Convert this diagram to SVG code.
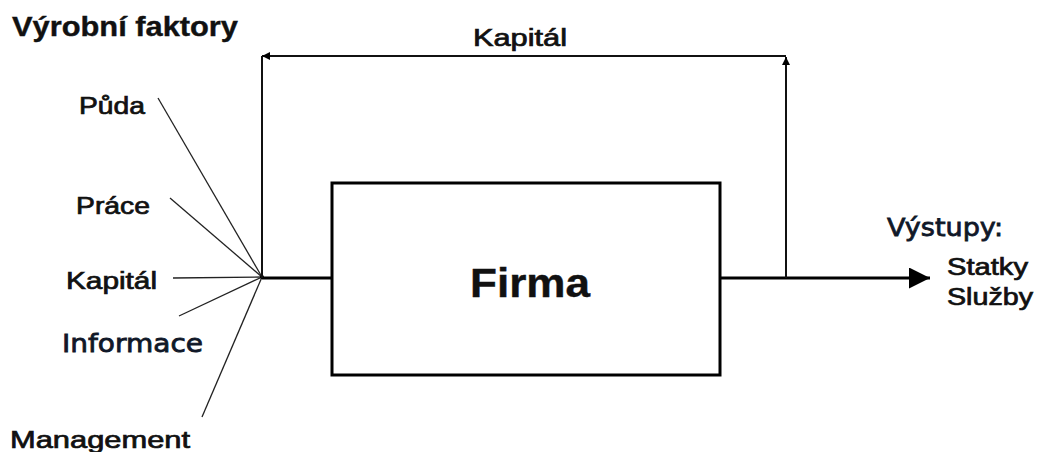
<svg xmlns="http://www.w3.org/2000/svg" width="1040" height="452" viewBox="0 0 1040 452">
  <defs>
    <style>
      .lbl { font-family: "Liberation Sans", Arial, sans-serif; fill: #111; stroke: #111; stroke-width: 0.7; }
      .b { font-weight: bold; stroke-width: 0.4; }
      .tah { font-family: "DejaVu Sans", Verdana, sans-serif; fill: #101828; stroke: #101828; stroke-width: 0.8; }
      .thin { stroke: #222; stroke-width: 1.3; fill: none; }
      .main { stroke: #000; stroke-width: 3; fill: none; }
      .loop { stroke: #111; stroke-width: 2; fill: none; }
    </style>
    <marker id="bigArrow" viewBox="0 0 10 10" refX="10" refY="5" markerWidth="7" markerHeight="7" markerUnits="strokeWidth" orient="auto">
      <path d="M0,0 L10,5 L0,10 Z" fill="#000"/>
    </marker>
    <marker id="smallArrow" viewBox="0 0 10 10" refX="10" refY="5" markerWidth="4" markerHeight="4" markerUnits="strokeWidth" orient="auto">
      <path d="M0,0 L10,5 L0,10 Z" fill="#000"/>
    </marker>
  </defs>

  <rect width="1040" height="452" fill="#fff"/>

  <!-- Heading -->
  <text class="lbl b" x="12" y="36" font-size="28" textLength="226" lengthAdjust="spacingAndGlyphs">Výrobní faktory</text>

  <!-- Connectors -->
  <g id="connectors">
    <!-- factor inputs converging at the hub -->
    <line class="thin" x1="158" y1="98" x2="262" y2="277"/>
    <line class="thin" x1="170" y1="198" x2="262" y2="277"/>
    <line class="thin" x1="173" y1="278" x2="262" y2="277"/>
    <line class="thin" x1="179" y1="316" x2="262" y2="277"/>
    <line class="thin" x1="202" y1="417" x2="262" y2="277"/>
    <circle cx="262" cy="277" r="2" fill="#000"/>
    <!-- hub to firm -->
    <line class="main" x1="262" y1="278" x2="333" y2="278"/>
    <!-- firm to outputs -->
    <line class="main" x1="720" y1="278" x2="930" y2="278" marker-end="url(#bigArrow)"/>
    <!-- capital feedback loop -->
    <path class="loop" d="M786,278 L786,57" marker-end="url(#smallArrow)"/>
    <path class="loop" d="M786,56 L262,56" marker-end="url(#smallArrow)"/>
    <line class="loop" x1="262" y1="56" x2="262" y2="278"/>
  </g>

  <!-- Capital loop label -->
  <text class="lbl" x="520" y="46" font-size="23" text-anchor="middle" textLength="94" lengthAdjust="spacingAndGlyphs">Kapitál</text>

  <!-- Input factors -->
  <g id="factor-puda"><text class="lbl" x="79" y="114" font-size="23" textLength="66" lengthAdjust="spacingAndGlyphs">Půda</text></g>
  <g id="factor-prace"><text class="lbl" x="76" y="214" font-size="23" textLength="74" lengthAdjust="spacingAndGlyphs">Práce</text></g>
  <g id="factor-kapital"><text class="lbl" x="66" y="289" font-size="23" textLength="91" lengthAdjust="spacingAndGlyphs">Kapitál</text></g>
  <g id="factor-informace"><text class="tah" x="62" y="352" font-size="25" textLength="141" lengthAdjust="spacingAndGlyphs">Informace</text></g>
  <g id="factor-management"><text class="lbl" x="10" y="448" font-size="23" textLength="180" lengthAdjust="spacingAndGlyphs">Management</text></g>

  <!-- Firm -->
  <g id="firma">
    <rect x="332" y="183" width="388" height="192" fill="#fff" stroke="#000" stroke-width="3"/>
    <text class="lbl b" x="530" y="297" font-size="40" text-anchor="middle" textLength="120" lengthAdjust="spacingAndGlyphs">Firma</text>
  </g>

  <!-- Outputs -->
  <g id="vystupy">
    <text class="tah" x="887" y="236" font-size="25" textLength="116" lengthAdjust="spacingAndGlyphs">Výstupy:</text>
    <text class="lbl" x="947" y="275" font-size="23" textLength="81" lengthAdjust="spacingAndGlyphs">Statky</text>
    <text class="lbl" x="947" y="305" font-size="23" textLength="86" lengthAdjust="spacingAndGlyphs">Služby</text>
  </g>
</svg>
